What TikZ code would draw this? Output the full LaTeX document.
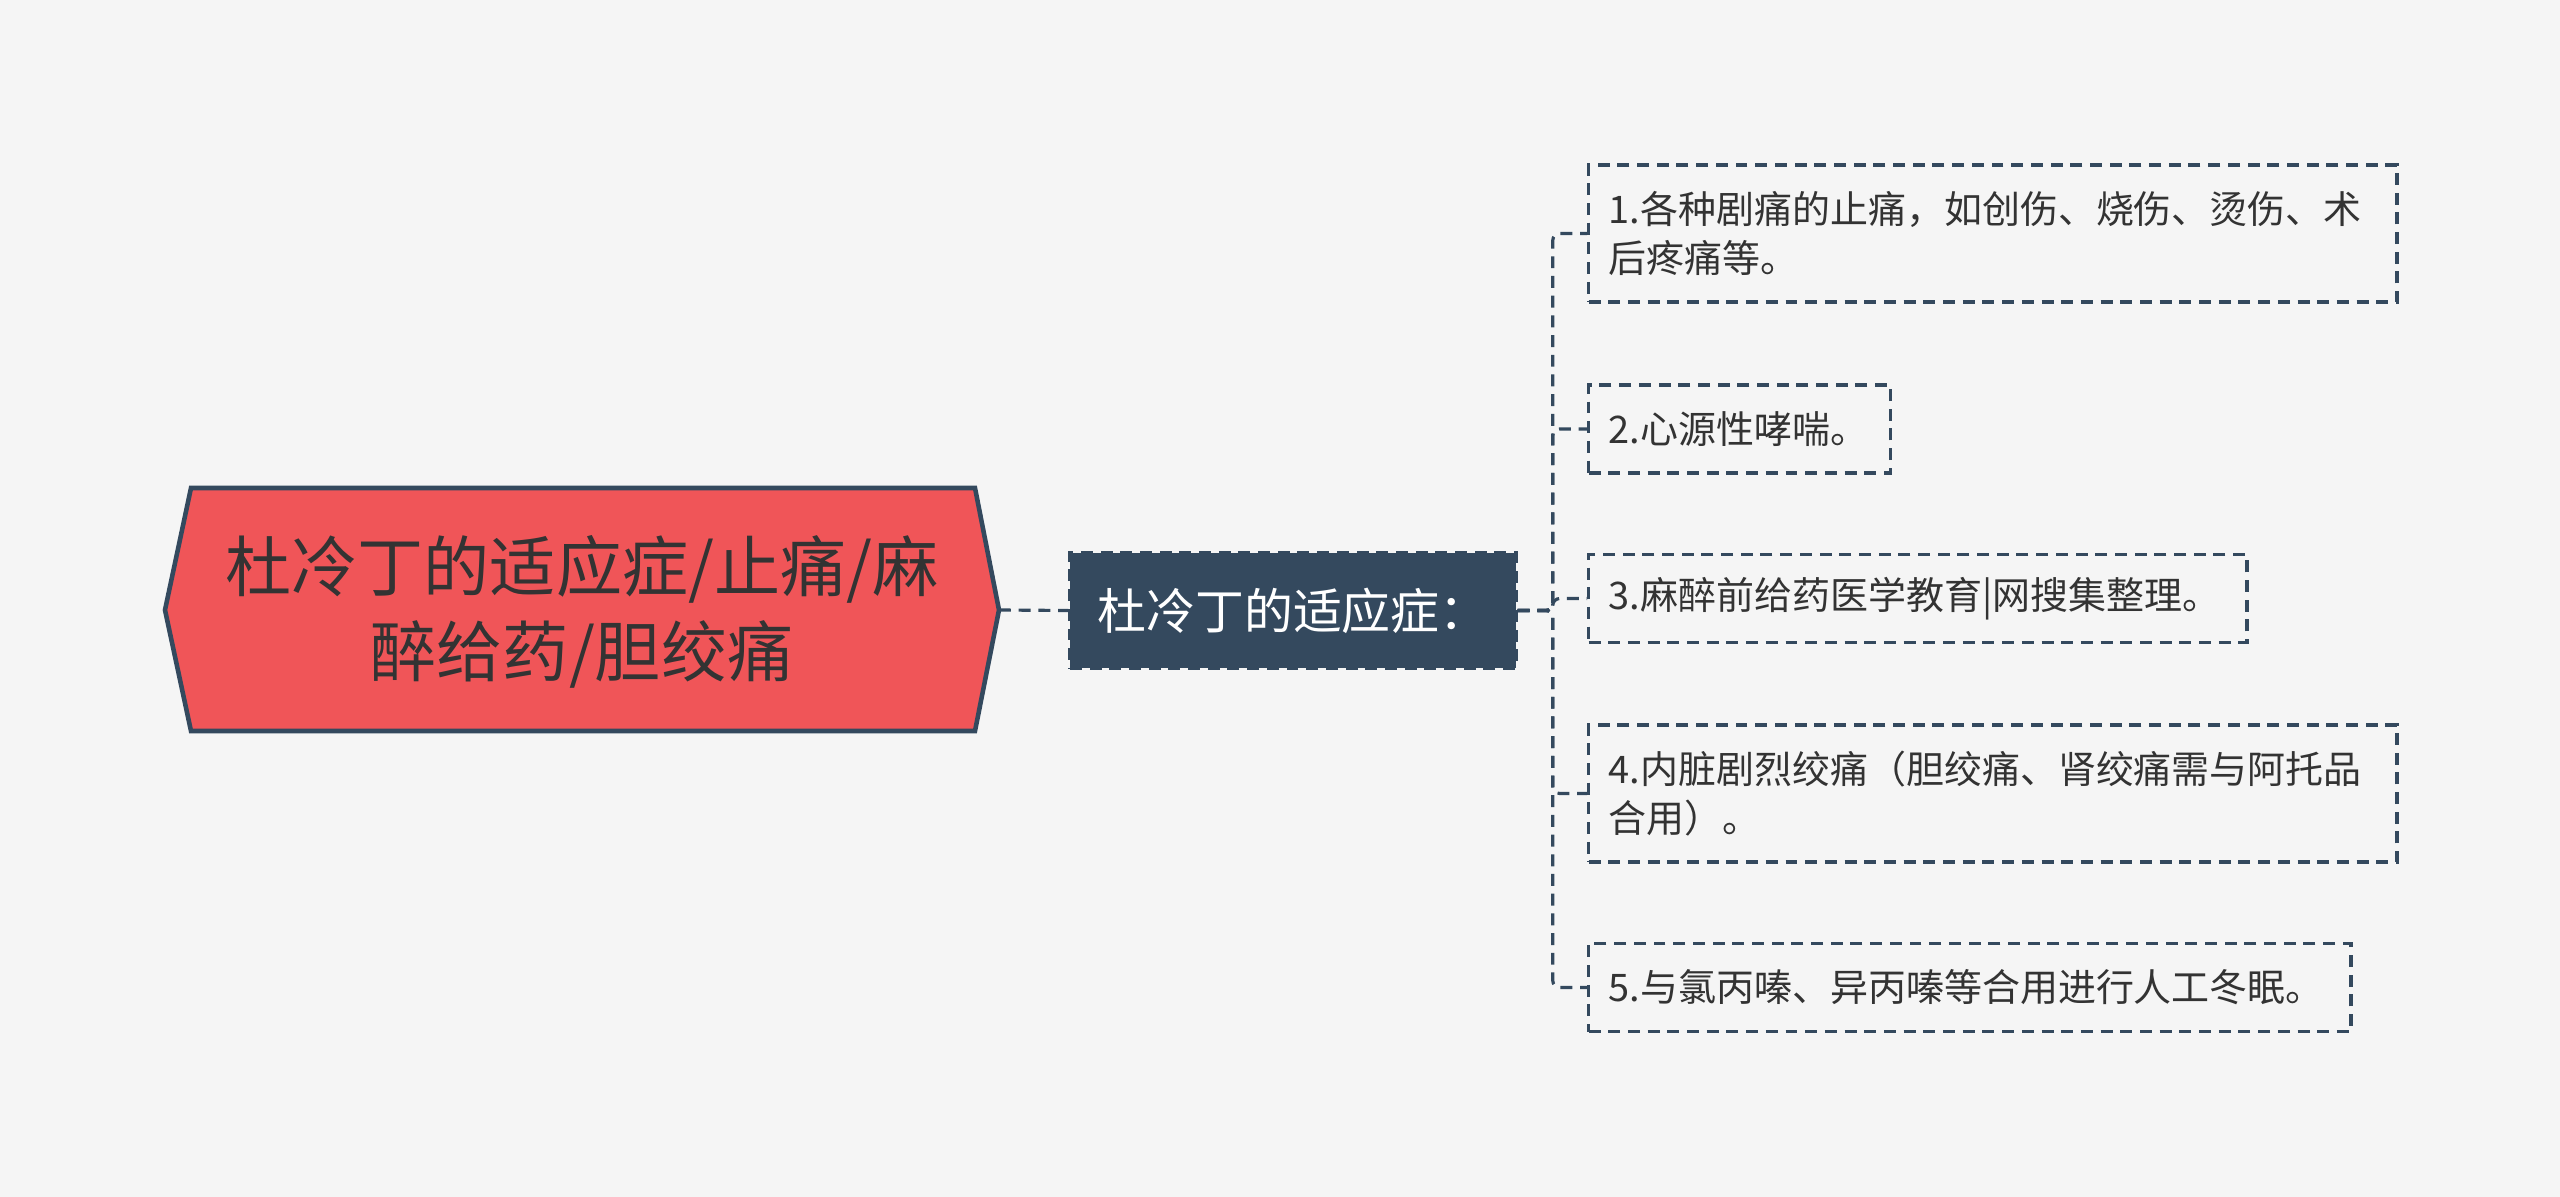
\documentclass[tikz,border=0pt]{standalone}
\usepackage{fontspec}
\newfontfamily\cjk{Noto Sans CJK SC}
\usepackage{xcolor}
\definecolor{mapbg}{HTML}{F5F5F5}
\definecolor{mapred}{HTML}{F05558}
\definecolor{mapnavy}{HTML}{34495E}
\definecolor{mapink}{HTML}{333333}

\begin{document}
\begin{tikzpicture}[
  x=0.01cm,
  y=-0.01cm,
  every node/.style={font=\cjk},
  link/.style={mapnavy, line width=0.9pt, dash pattern=on 3.4pt off 2.2pt, rounded corners=2pt},
  leaf/.style={draw=mapnavy, line width=0.9pt, dash pattern=on 3.4pt off 2.2pt,
    text=mapink, anchor=west, align=left, inner xsep=0.2cm, inner ysep=0pt,
    minimum height=0.88cm, font=\cjk\fontsize{10.8pt}{13.9pt}\selectfont}
]
  \fill[mapbg] (0,0) rectangle (2560,1197);

  \draw[mapnavy, line width=1.3pt, fill=mapred]
    (165,610) -- (191,488) -- (975,488) -- (999,610) -- (975,731) -- (191,731) -- cycle;
  \coordinate (tip) at (999,610);
  \node[mapink, align=center, font=\cjk\fontsize{18.8pt}{24.2pt}\selectfont] (root) at (582,612)
    {杜冷丁的适应症/止痛/麻\\醉给药/胆绞痛};

  \node[fill=mapnavy, draw=mapnavy, line width=0.9pt, dash pattern=on 3.4pt off 2.2pt,
    text=white, minimum width=4.46cm, minimum height=1.15cm,
    font=\cjk\fontsize{13.9pt}{16pt}\selectfont] (sub) at (1293,610.5) {杜冷丁的适应症：};

  \node[leaf, text width=7.68cm, minimum height=1.37cm] (c1) at (1587,233.5)
    {1.各种剧痛的止痛，如创伤、烧伤、烫伤、术\\后疼痛等。};
  \node[leaf, text width=2.62cm] (c2) at (1587,429) {2.心源性哮喘。};
  \node[leaf, text width=6.18cm] (c3) at (1587,598.5) {3.麻醉前给药医学教育|网搜集整理。};
  \node[leaf, text width=7.68cm, minimum height=1.37cm] (c4) at (1587,793.5)
    {4.内脏剧烈绞痛（胆绞痛、肾绞痛需与阿托品\\合用）。};
  \node[leaf, text width=7.22cm] (c5) at (1587,987.5) {5.与氯丙嗪、异丙嗪等合用进行人工冬眠。};

  \draw[link] (tip) -- (sub.west);
  \foreach \n in {c1,c2,c3,c4,c5}
    \draw[link] (sub.east) -- ++(35,0) |- (\n.west);
\end{tikzpicture}
\end{document}
